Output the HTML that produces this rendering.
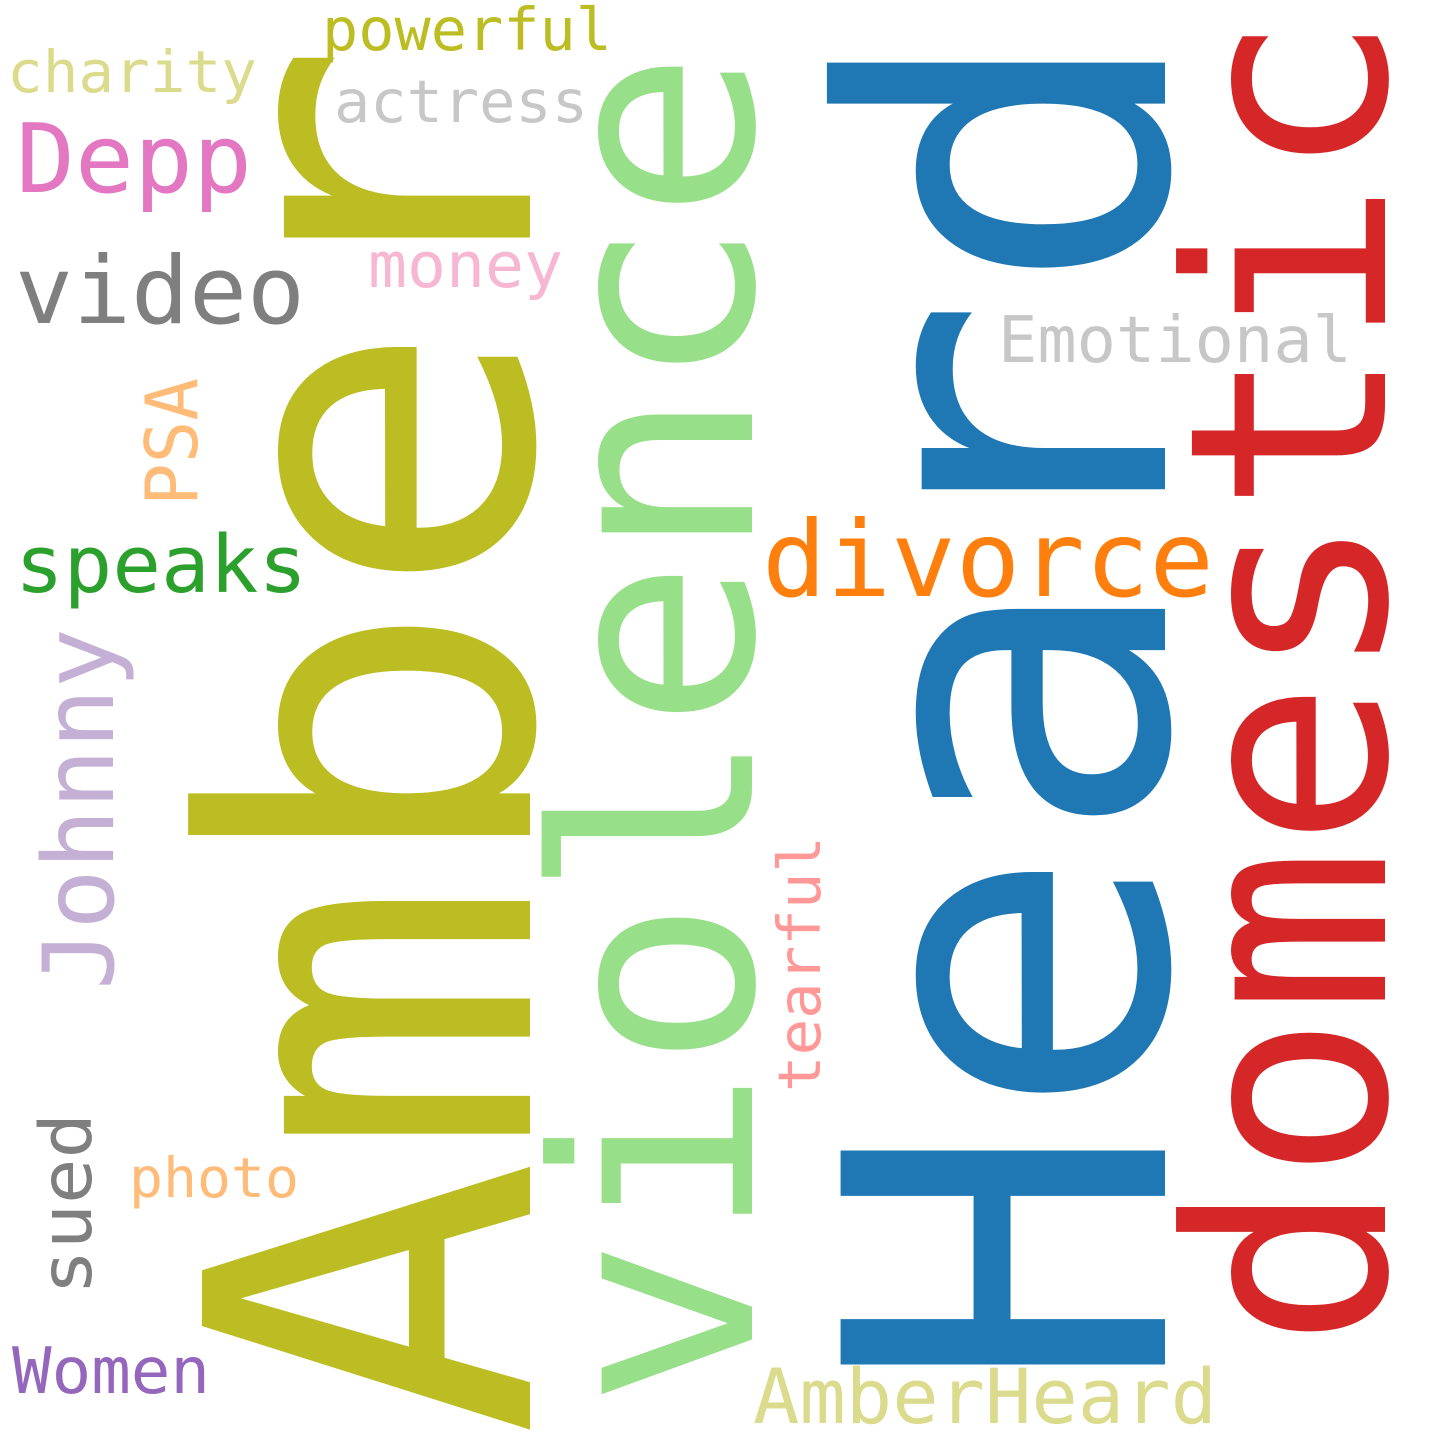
<!DOCTYPE html>
<html><head><meta charset="utf-8"><style>
html,body{margin:0;padding:0;background:#fff;}
svg{display:block;}
text{font-family:"DejaVu Sans Mono","Liberation Mono",monospace;}
</style></head><body>
<svg width="1440" height="1440" viewBox="0 0 1440 1440">
<rect width="1440" height="1440" fill="#fff"/>
<text transform="translate(530,1438) rotate(-90)" font-size="450" fill="#bcbd22" textLength="1398" lengthAdjust="spacingAndGlyphs">Amber</text>
<text transform="translate(1165,1395) rotate(-90)" font-size="445" fill="#1f77b4" textLength="1375" lengthAdjust="spacingAndGlyphs">Heard</text>
<text transform="translate(1385,1348) rotate(-90)" font-size="275" fill="#d62728" textLength="1335" lengthAdjust="spacingAndGlyphs">domestic</text>
<text transform="translate(752,1408) rotate(-90)" font-size="275" fill="#98df8a" textLength="1358" lengthAdjust="spacingAndGlyphs">violence</text>
<text x="762" y="596" font-size="105" fill="#ff7f0e" textLength="452" lengthAdjust="spacingAndGlyphs">divorce</text>
<text x="998" y="362" font-size="64" fill="#c7c7c7" textLength="354" lengthAdjust="spacingAndGlyphs">Emotional</text>
<text x="753" y="1423" font-size="76" fill="#dbdb8d" textLength="464" lengthAdjust="spacingAndGlyphs">AmberHeard</text>
<text x="15" y="323" font-size="94" fill="#7f7f7f" textLength="290" lengthAdjust="spacingAndGlyphs">video</text>
<text x="16" y="192" font-size="95" fill="#e377c2" textLength="236" lengthAdjust="spacingAndGlyphs">Depp</text>
<text x="15" y="592" font-size="79" fill="#2ca02c" textLength="292" lengthAdjust="spacingAndGlyphs">speaks</text>
<text x="7" y="92" font-size="58" fill="#dbdb8d" textLength="250" lengthAdjust="spacingAndGlyphs">charity</text>
<text x="322" y="50" font-size="59" fill="#bcbd22" textLength="290" lengthAdjust="spacingAndGlyphs">powerful</text>
<text x="334" y="122" font-size="59" fill="#c7c7c7" textLength="254" lengthAdjust="spacingAndGlyphs">actress</text>
<text x="368" y="287" font-size="63" fill="#f7b6d2" textLength="195" lengthAdjust="spacingAndGlyphs">money</text>
<text x="129" y="1197" font-size="55" fill="#ffbb78" textLength="170" lengthAdjust="spacingAndGlyphs">photo</text>
<text x="12" y="1393" font-size="64" fill="#9467bd" textLength="198" lengthAdjust="spacingAndGlyphs">Women</text>
<text transform="translate(197,506) rotate(-90)" font-size="72" fill="#ffbb78" textLength="128" lengthAdjust="spacingAndGlyphs">PSA</text>
<text transform="translate(113,990) rotate(-90)" font-size="98" fill="#c5b0d5" textLength="362" lengthAdjust="spacingAndGlyphs">Johnny</text>
<text transform="translate(91,1295) rotate(-90)" font-size="71" fill="#7f7f7f" textLength="182" lengthAdjust="spacingAndGlyphs">sued</text>
<text transform="translate(820,1092) rotate(-90)" font-size="59" fill="#ff9896" textLength="256" lengthAdjust="spacingAndGlyphs">tearful</text>
</svg>
</body></html>
